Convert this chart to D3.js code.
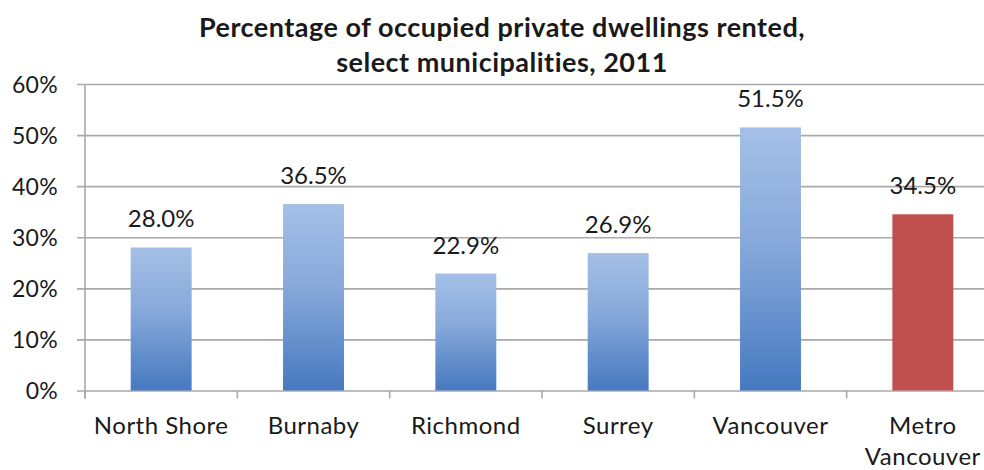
<!DOCTYPE html>
<html>
<head>
<meta charset="utf-8">
<script src="https://cdn.jsdelivr.net/npm/d3@7"></script>
<style>
  html, body { margin: 0; padding: 0; background: #fff; }
  svg { display: block; font-family: Lato, "Open Sans", sans-serif; }
</style>
</head>
<body>
<svg id="chart" width="984" height="470"></svg>
<script>
// Rental share of occupied private dwellings, 2011
const categories = ["North Shore", "Burnaby", "Richmond", "Surrey", "Vancouver", "Metro Vancouver"];
const rentedPct = [28.0, 36.5, 22.9, 26.9, 51.5, 34.5];
const isRegion = [false, false, false, false, false, true];
const yTicks = [0, 10, 20, 30, 40, 50, 60];
const titleLines = ["Percentage of occupied private dwellings rented,", "select municipalities, 2011"];

const svg = d3.select("#chart");
const W = 984, H = 470;
const plot = { left: 85, right: 999, top: 84, bottom: 390.5 };

const x = d3.scaleBand().domain(categories).range([plot.left, plot.right]).paddingInner(0).paddingOuter(0);
const y = d3.scaleLinear().domain([0, 60]).range([plot.bottom, plot.top]);

// Vertical gradient applied to each municipal bar
const defs = svg.append("defs");
const grad = defs.append("linearGradient").attr("id", "blueGrad")
  .attr("x1", 0).attr("y1", 0).attr("x2", 0).attr("y2", 1);
grad.append("stop").attr("offset", "0%").attr("stop-color", "#a4c0e6");
grad.append("stop").attr("offset", "45%").attr("stop-color", "#86a8da");
grad.append("stop").attr("offset", "100%").attr("stop-color", "#4679c0");

// Title
svg.append("g").selectAll("text").data(titleLines).join("text")
  .attr("x", 502).attr("y", (d, i) => 37 + i * 35)
  .attr("text-anchor", "middle")
  .attr("font-weight", "bold")
  .attr("font-size", 27)
  .attr("letter-spacing", 0.5)
  .attr("fill", "#1a1a1a")
  .text(d => d);

// Horizontal gridlines with y-axis tick labels
const yAxis = d3.axisLeft(y).tickValues(yTicks).tickFormat(d => d + "%")
  .tickSize(-(W - plot.left)).tickPadding(0);
const gy = svg.append("g").attr("transform", `translate(${plot.left},0)`).call(yAxis);
gy.select(".domain").remove();
gy.selectAll(".tick line").attr("x1", -8).attr("stroke", "#a9a9a9").attr("stroke-width", 1.6);
gy.selectAll(".tick text")
  .attr("x", -27).attr("dy", "0.35em")
  .attr("font-size", 23).attr("letter-spacing", 0.3).attr("fill", "#1a1a1a")
  .attr("font-family", "Lato, sans-serif");

// Vertical axis line
svg.append("line")
  .attr("x1", plot.left).attr("x2", plot.left)
  .attr("y1", plot.top).attr("y2", plot.bottom + 8)
  .attr("stroke", "#a9a9a9").attr("stroke-width", 1.6);

// Category boundary ticks on the x axis
const bounds = categories.map(c => x(c)).concat([plot.right]);
svg.append("g").selectAll("line").data(bounds).join("line")
  .attr("x1", d => d).attr("x2", d => d)
  .attr("y1", plot.bottom).attr("y2", plot.bottom + 8)
  .attr("stroke", "#a9a9a9").attr("stroke-width", 1.6);

// Bars
const barW = x.bandwidth() * 0.4;
const data = categories.map((c, i) => ({ c, v: rentedPct[i], region: isRegion[i] }));
svg.append("g").selectAll("rect").data(data).join("rect")
  .attr("x", d => x(d.c) + (x.bandwidth() - barW) / 2)
  .attr("width", barW)
  .attr("y", d => y(d.v))
  .attr("height", d => y(0) - y(d.v))
  .attr("fill", d => d.region ? "#c0504d" : "url(#blueGrad)");

// Value labels above bars
svg.append("g").selectAll("text").data(data).join("text")
  .attr("x", d => x(d.c) + x.bandwidth() / 2)
  .attr("y", d => y(d.v) - 20)
  .attr("text-anchor", "middle")
  .attr("font-size", 24)
  .attr("fill", "#1a1a1a")
  .text(d => d.v.toFixed(1) + "%");

// Category labels; the regional total is split over two lines
svg.append("g").selectAll("text").data(data).join("text")
  .attr("x", d => x(d.c) + x.bandwidth() / 2)
  .attr("y", 434)
  .attr("text-anchor", "middle")
  .attr("font-size", 24)
  .attr("letter-spacing", 0.5)
  .attr("fill", "#1a1a1a")
  .each(function (d) {
    const t = d3.select(this);
    const lines = d.region ? d.c.split(" ") : [d.c];
    lines.forEach((ln, i) => {
      t.append("tspan")
        .attr("x", x(d.c) + x.bandwidth() / 2)
        .attr("dy", i === 0 ? 0 : 31)
        .text(ln);
    });
  });
</script>
</body>
</html>
